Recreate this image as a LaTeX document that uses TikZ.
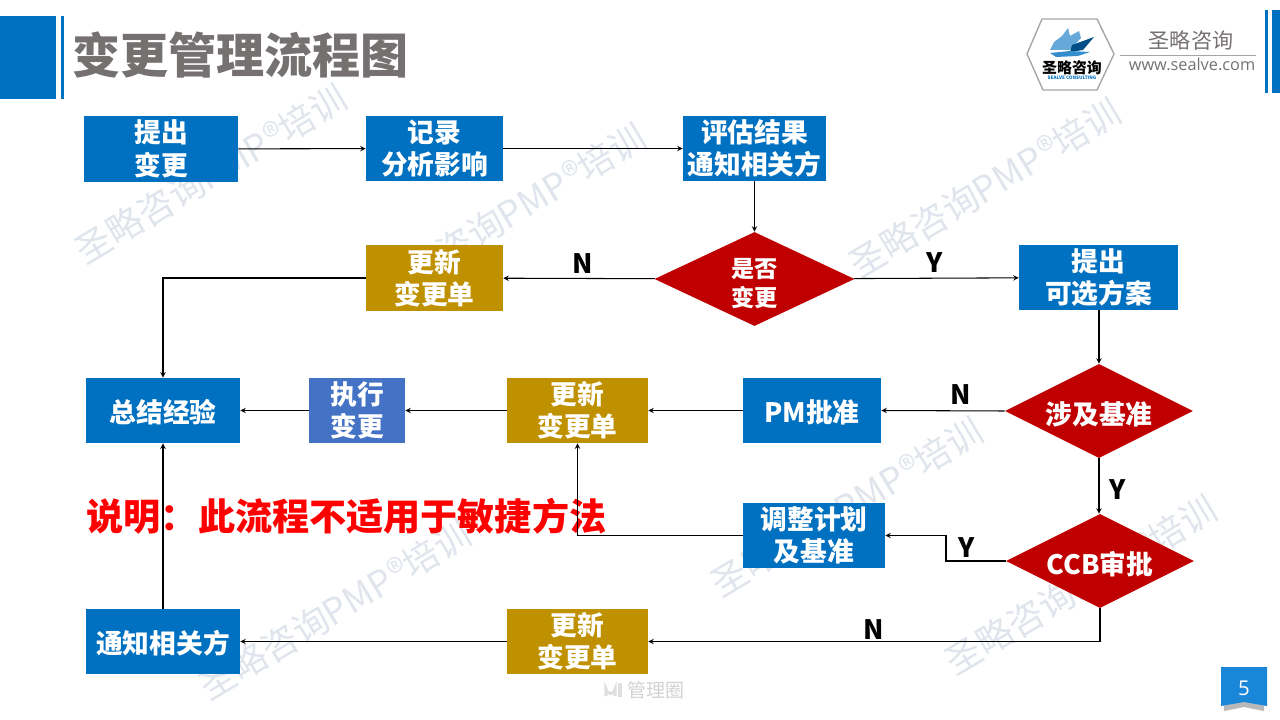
\documentclass[tikz,border=0pt]{standalone}
\usepackage{fontspec}
\setmainfont{Noto Sans CJK SC}
\newfontfamily\latinfont{Open Sans}
\usetikzlibrary{arrows, positioning, shapes.geometric}
\definecolor{sealblue}{HTML}{0070C0}
\definecolor{sealgold}{HTML}{BF9000}
\definecolor{sealred}{HTML}{C00000}
\definecolor{sealrun}{HTML}{4472C4}
\definecolor{titlegray}{HTML}{767171}
\definecolor{markgray}{HTML}{E0E5ED}
\definecolor{pageblue}{HTML}{1A86D8}
\tikzstyle{arrow} = [->,>=stealth,line width=0.75pt]
\tikzset{
  box/.style = {
    inner sep     = 0pt,
    minimum height= 1.63cm,
    text          = white,
    align         = center,
    font          = \fontsize{19}{23}\selectfont\bfseries,
    execute at begin node = {\rule{0pt}{19pt}}
  },
  bluebox/.style = {box, fill = sealblue},
  goldbox/.style = {box, fill = sealgold},
  decision/.style = {box, diamond, aspect = 2, fill = sealred, minimum height = 2.35cm},
  answer/.style = {inner sep = 0pt, font = \fontsize{19}{23}\selectfont\bfseries},
  watermark/.style = {inner sep = 0pt, rotate = 31, text = markgray, font = \fontsize{25.6}{26}\selectfont}
}

\begin{document}
\begin{tikzpicture}[x=0.025cm,y=-0.025cm]
\useasboundingbox (0,0) rectangle (1280,720);

% Watermarks
\node[watermark] (mark1) at (211,174) {圣略咨询PMP®培训};
\node[watermark] (mark2) at (510,213) {圣略咨询PMP®培训};
\node[watermark] (mark3) at (985,188) {圣略咨询PMP®培训};
\node[watermark] (mark4) at (847,507) {圣略咨询PMP®培训};
\node[watermark] (mark5) at (335,610) {圣略咨询PMP®培训};
\node[watermark] (mark6) at (1081,585) {圣略咨询PMP®培训};

% Title bar
\fill[sealblue] (0,16) rectangle (56,99);
\fill[sealblue] (61,16) rectangle (64,99);
\node[anchor=west, inner sep=0pt, text=titlegray, font=\fontsize{34.2}{35}\selectfont\bfseries] (title) at (72,55) {变更管理流程图};

% Logo
\draw[line width=1pt, gray!70] (1027,54) -- (1042,19) -- (1097,19) -- (1114,54) -- (1097,90) -- (1043,90) -- cycle;
\fill[sealblue!60] (1062,36) -- (1068,28) -- (1070,36) -- (1079,31) -- (1081,38) -- (1070,50) -- (1050,50) -- (1054,42) -- cycle;
\fill[sealblue!70!black] (1072,45) -- (1094,37) -- (1083,50) -- (1070,52) -- cycle;
\fill[sealblue!80] (1050,53) -- (1070,51) -- (1090,52) -- (1078,56) -- (1056,57) -- cycle;
\node[inner sep=0pt, font=\fontsize{10.6}{12}\selectfont\bfseries] (logoname) at (1072,68) {圣略咨询};
\node[inner sep=0pt, text=sealblue, font=\fontsize{3.3}{4}\selectfont\bfseries] (logosub) at (1072,78) {SEALVE CONSULTING};
\node[inner sep=0pt, text=titlegray, font=\fontsize{15}{15}\selectfont] (company) at (1191,41) {圣略咨询};
\draw[gray!70, line width=0.6pt] (1120,55) -- (1256,55);
\node[inner sep=0pt, text=titlegray, font=\latinfont\fontsize{11.6}{12}\selectfont] (website) at (1192,64) {www.sealve.com};
\fill[sealblue] (1265,10) rectangle (1268,93);
\fill[sealblue] (1272,10) rectangle (1280,93);

% First row
\node[bluebox, minimum width=3.85cm] (propose) at (161,149) {提出\\变更};
\node[bluebox, minimum width=3.425cm] (record) at (434.5,148.5) {记录\\分析影响};
\node[bluebox, minimum width=3.575cm] (notify) at (754.5,148.5) {评估结果\\通知相关方};

% Second row
\node[goldbox, minimum width=3.425cm] (updatea) at (434.5,278) {更新\\变更单};
\node[decision, minimum width=5cm, font=\fontsize{16.5}{21}\selectfont\bfseries] (change) at (754.5,279) {\rule{0pt}{20pt}是否\\变更};
\node[bluebox, minimum width=3.975cm] (options) at (1098.5,277.5) {提出\\可选方案};

% Third row
\node[bluebox, minimum width=3.85cm] (lessons) at (163,410.5) {总结经验};
\node[box, fill=sealrun, minimum width=2.4cm] (execute) at (357,410.5) {执行\\变更};
\node[goldbox, minimum width=3.525cm] (updateb) at (577.5,410.5) {更新\\变更单};
\node[bluebox, minimum width=3.45cm] (approve) at (812,410.5) {PM批准};
\node[decision, minimum width=4.7cm] (baseline) at (1099,411) {\rule{0pt}{21pt}涉及基准};

% Fourth row
\node[bluebox, minimum width=3.55cm] (adjust) at (814,535.5) {调整计划\\及基准};
\node[decision, minimum width=4.7cm] (ccb) at (1100,561) {\rule{0pt}{20.5pt}CCB审批};
\node[inner sep=0pt, text=red, font=\fontsize{26.4}{27}\selectfont\bfseries] (note) at (346.5,516) {说明：此流程不适用于敏捷方法};

% Fifth row
\node[bluebox, minimum width=3.85cm] (inform) at (163,641.5) {通知相关方};
\node[goldbox, minimum width=3.525cm] (updatec) at (577.5,641.5) {更新\\变更单};

% Connectors
\draw[arrow] (propose) -- (record);
\draw[arrow] (record) -- (notify);
\draw[arrow] (notify) -- (change);
\draw[arrow] (change) -- (updatea);
\draw[arrow] (change) -- (options);
\draw[arrow] (options.south -| baseline.north) -- (baseline.north);
\draw[arrow] (updatea.west) -| (lessons.north);
\draw[arrow] (baseline.west) -- (approve.east);
\draw[arrow] (approve) -- (updateb);
\draw[arrow] (updateb) -- (execute);
\draw[arrow] (execute) -- (lessons);
\draw[arrow] (baseline.south) -- (baseline.south |- ccb.north);
\draw[arrow] (ccb.west) -- (946,561) |- (adjust.east);
\draw[arrow] (adjust.west) -| (updateb.south);
\draw[arrow] (ccb.south) |- (updatec.east);
\draw[arrow] (updatec) -- (inform);
\draw[arrow] (inform) -- (lessons);

% Answers
\node[answer] (answer1) at (582.5,264) {N};
\node[answer] (answer2) at (934.5,263) {Y};
\node[answer] (answer3) at (960.5,395) {N};
\node[answer] (answer4) at (1117.5,490) {Y};
\node[answer] (answer5) at (966.5,548) {Y};
\node[answer] (answer6) at (873.5,630) {N};

% Footer
\draw[gray!25, line width=2.2pt] (606,696) -- (606,689) arc (180:0:4.5) -- (615,696);
\fill[gray!25] (618,683) rectangle (622,697);
\node[inner sep=0pt, text=gray!35, font=\fontsize{13.5}{14}\selectfont] (footer) at (655.5,690) {管理圈};

% Page number
\fill[gray!55] (1224,702) -- (1244,698) -- (1264,702) -- (1264,711) -- (1244,707) -- (1224,711) -- cycle;
\fill[pageblue] (1221,667) -- (1267,667) -- (1267,706) -- (1244,702) -- (1221,706) -- cycle;
\node[inner sep=0pt, text=white, font=\latinfont\fontsize{14.5}{15}\selectfont] (page) at (1244,688) {5};

\end{tikzpicture}
\end{document}
